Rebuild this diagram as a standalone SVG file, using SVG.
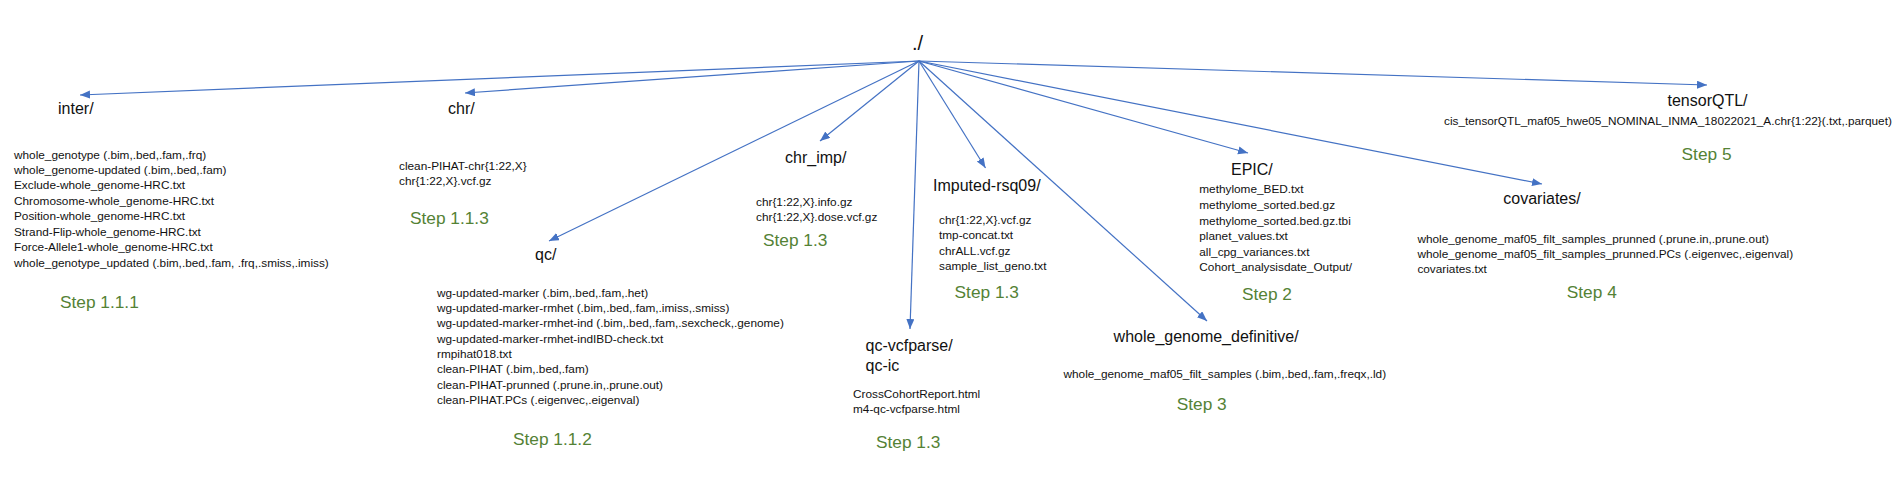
<svg xmlns="http://www.w3.org/2000/svg" width="1900" height="478" viewBox="0 0 1900 478">
<style>
text{font-family:"Liberation Sans",Arial,sans-serif;fill:#111}
.root{font-size:20px}
.dir{font-size:16px}
.f{font-size:11.8px}
.step{font-size:17.3px;fill:#548235}
.c line{stroke:#4472C4;stroke-width:1.2;fill:none}
</style>
<defs>
<marker id="ah" markerUnits="userSpaceOnUse" markerWidth="11" markerHeight="9" refX="10" refY="4" orient="auto">
<path d="M0,0 L10,4 L0,8 Z" fill="#4472C4"/>
</marker>
</defs>
<rect width="1900" height="478" fill="#fff"/>
<g id="connectors" class="c">
<line x1="919" y1="61" x2="80" y2="95" marker-end="url(#ah)"/>
<line x1="919" y1="61" x2="465" y2="93" marker-end="url(#ah)"/>
<line x1="919" y1="61" x2="549" y2="241" marker-end="url(#ah)"/>
<line x1="919" y1="61" x2="820" y2="141" marker-end="url(#ah)"/>
<line x1="919" y1="61" x2="910" y2="329" marker-end="url(#ah)"/>
<line x1="919" y1="61" x2="985.5" y2="168" marker-end="url(#ah)"/>
<line x1="919" y1="61" x2="1207" y2="321" marker-end="url(#ah)"/>
<line x1="919" y1="61" x2="1248" y2="153" marker-end="url(#ah)"/>
<line x1="919" y1="61" x2="1542" y2="184" marker-end="url(#ah)"/>
<line x1="919" y1="61" x2="1707" y2="85" marker-end="url(#ah)"/>
</g>
<g id="root"><text class="root" x="912" y="50">./</text></g>
<g id="inter">
<text class="dir" x="58" y="114">inter/</text>
<text class="f" x="14" y="158.5">whole_genotype (.bim,.bed,.fam,.frq)</text>
<text class="f" x="14" y="174">whole_genome-updated (.bim,.bed,.fam)</text>
<text class="f" x="14" y="189.4">Exclude-whole_genome-HRC.txt</text>
<text class="f" x="14" y="204.9">Chromosome-whole_genome-HRC.txt</text>
<text class="f" x="14" y="220.3">Position-whole_genome-HRC.txt</text>
<text class="f" x="14" y="235.8">Strand-Flip-whole_genome-HRC.txt</text>
<text class="f" x="14" y="251.2">Force-Allele1-whole_genome-HRC.txt</text>
<text class="f" x="14" y="266.7">whole_genotype_updated (.bim,.bed,.fam, .frq,.smiss,.imiss)</text>
<text class="step" x="60" y="308">Step 1.1.1</text>
</g>
<g id="chr">
<text class="dir" x="448" y="114">chr/</text>
<text class="f" x="399" y="169.5">clean-PIHAT-chr{1:22,X}</text>
<text class="f" x="399" y="185.3">chr{1:22,X}.vcf.gz</text>
<text class="step" x="410" y="224">Step 1.1.3</text>
</g>
<g id="qc">
<text class="dir" x="535" y="260">qc/</text>
<text class="f" x="437" y="296.5">wg-updated-marker (.bim,.bed,.fam,.het)</text>
<text class="f" x="437" y="311.8">wg-updated-marker-rmhet (.bim,.bed,.fam,.imiss,.smiss)</text>
<text class="f" x="437" y="327.2">wg-updated-marker-rmhet-ind (.bim,.bed,.fam,.sexcheck,.genome)</text>
<text class="f" x="437" y="342.5">wg-updated-marker-rmhet-indIBD-check.txt</text>
<text class="f" x="437" y="357.8">rmpihat018.txt</text>
<text class="f" x="437" y="373.2">clean-PIHAT (.bim,.bed,.fam)</text>
<text class="f" x="437" y="388.5">clean-PIHAT-prunned (.prune.in,.prune.out)</text>
<text class="f" x="437" y="403.8">clean-PIHAT.PCs (.eigenvec,.eigenval)</text>
<text class="step" x="513" y="445">Step 1.1.2</text>
</g>
<g id="chr_imp">
<text class="dir" x="785" y="162.5">chr_imp/</text>
<text class="f" x="756" y="205.5">chr{1:22,X}.info.gz</text>
<text class="f" x="756" y="221.3">chr{1:22,X}.dose.vcf.gz</text>
<text class="step" x="763" y="246">Step 1.3</text>
</g>
<g id="qc-vcfparse">
<text class="dir" x="865.5" y="351">qc-vcfparse/</text>
<text class="dir" x="865.5" y="371">qc-ic</text>
<text class="f" x="853" y="397.5">CrossCohortReport.html</text>
<text class="f" x="853" y="413.3">m4-qc-vcfparse.html</text>
<text class="step" x="876" y="448">Step 1.3</text>
</g>
<g id="imputed">
<text class="dir" x="933" y="190.5">Imputed-rsq09/</text>
<text class="f" x="939" y="223.8">chr{1:22,X}.vcf.gz</text>
<text class="f" x="939" y="239.3">tmp-concat.txt</text>
<text class="f" x="939" y="254.8">chrALL.vcf.gz</text>
<text class="f" x="939" y="270.3">sample_list_geno.txt</text>
<text class="step" x="954.6" y="297.7">Step 1.3</text>
</g>
<g id="epic">
<text class="dir" x="1231" y="175">EPIC/</text>
<text class="f" x="1199.3" y="193.3">methylome_BED.txt</text>
<text class="f" x="1199.3" y="209">methylome_sorted.bed.gz</text>
<text class="f" x="1199.3" y="224.5">methylome_sorted.bed.gz.tbi</text>
<text class="f" x="1199.3" y="240">planet_values.txt</text>
<text class="f" x="1199.3" y="255.5">all_cpg_variances.txt</text>
<text class="f" x="1199.3" y="271">Cohort_analysisdate_Output/</text>
<text class="step" x="1242" y="299.5">Step 2</text>
</g>
<g id="whole_genome_definitive">
<text class="dir" x="1113.6" y="341.7">whole_genome_definitive/</text>
<text class="f" x="1063.5" y="378.3">whole_genome_maf05_filt_samples (.bim,.bed,.fam,.freqx,.ld)</text>
<text class="step" x="1176.7" y="410">Step 3</text>
</g>
<g id="covariates">
<text class="dir" x="1503.3" y="204">covariates/</text>
<text class="f" x="1417.4" y="242.7">whole_genome_maf05_filt_samples_prunned (.prune.in,.prune.out)</text>
<text class="f" x="1417.4" y="258">whole_genome_maf05_filt_samples_prunned.PCs (.eigenvec,.eigenval)</text>
<text class="f" x="1417.4" y="273.3">covariates.txt</text>
<text class="step" x="1566.8" y="297.7">Step 4</text>
</g>
<g id="tensorqtl">
<text class="dir" x="1667.5" y="105.7">tensorQTL/</text>
<text class="f" x="1444" y="125">cis_tensorQTL_maf05_hwe05_NOMINAL_INMA_18022021_A.chr{1:22}(.txt,.parquet)</text>
<text class="step" x="1681.6" y="160">Step 5</text>
</g>
</svg>
